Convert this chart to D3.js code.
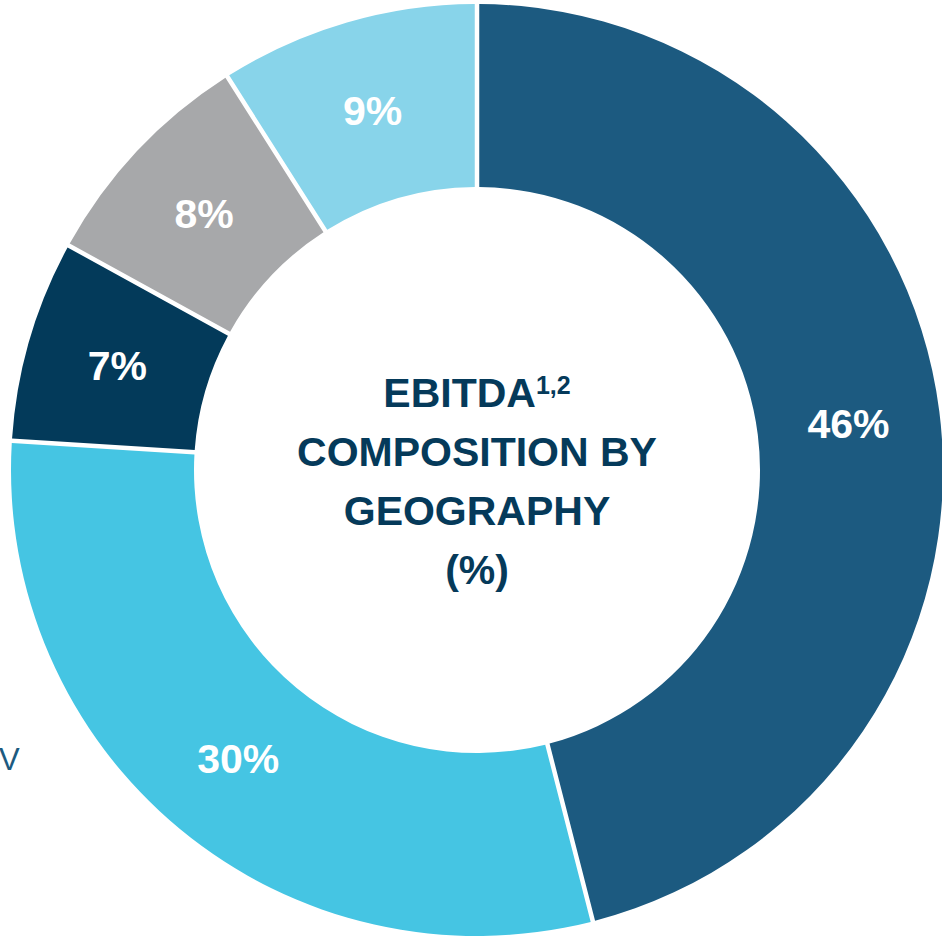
<!DOCTYPE html>
<html>
<head>
<meta charset="utf-8">
<script src="https://cdn.jsdelivr.net/npm/d3@7"></script>
<style>
  html, body { margin: 0; padding: 0; background: #ffffff; }
  svg { display: block; }
  text { font-family: "Liberation Sans", Arial, Helvetica, sans-serif; }
</style>
</head>
<body>
<script>
// EBITDA share by geography, clockwise from 12 o'clock
const shares = [46, 30, 7, 8, 9];
const shareLabels = ["46%", "30%", "7%", "8%", "9%"];
const sliceColors = ["#1c5a80", "#45c5e3", "#033a5a", "#a7a8aa", "#88d4ea"];
const centerLines = ["COMPOSITION BY", "GEOGRAPHY", "(%)"];

const width = 942, height = 936;
const cx = 477, cy = 470;
const outerR = 466, innerR = 283;

const svg = d3.select("body").append("svg")
  .attr("width", width)
  .attr("height", height);

const g = svg.append("g").attr("transform", `translate(${cx},${cy})`);

const pie = d3.pie().sort(null).value(d => d);
const arcs = pie(shares);

const arc = d3.arc()
  .innerRadius(innerR)
  .outerRadius(outerR)
  .padRadius(outerR)
  .padAngle(4.5 / outerR);

g.selectAll("path.slice")
  .data(arcs)
  .join("path")
  .attr("class", "slice")
  .attr("d", arc)
  .attr("fill", (d, i) => sliceColors[i]);

// percentage labels at slice centroids
g.selectAll("text.pct")
  .data(arcs)
  .join("text")
  .attr("class", "pct")
  .attr("transform", d => `translate(${arc.centroid(d)})`)
  .attr("text-anchor", "middle")
  .attr("dy", "0.36em")
  .attr("fill", "#ffffff")
  .attr("font-weight", "bold")
  .attr("font-size", 41)
  .text((d, i) => shareLabels[i]);

// centre title
const titleColor = "#053a5a";
const title = g.append("text")
  .attr("text-anchor", "middle")
  .attr("fill", titleColor)
  .attr("font-weight", "bold")
  .attr("font-size", 41)
  .attr("y", 407 - cy);
title.append("tspan").text("EBITDA");
title.append("tspan")
  .attr("font-size", 25)
  .attr("dy", -13)
  .text("1,2");

centerLines.forEach((line, i) => {
  g.append("text")
    .attr("text-anchor", "middle")
    .attr("fill", titleColor)
    .attr("font-weight", "bold")
    .attr("font-size", 41)
    .attr("y", 466 - cy + i * 59)
    .text(line);
});

// clipped legend fragment at the left edge
svg.append("text")
  .attr("x", -1)
  .attr("y", 770)
  .attr("fill", "#1c5a80")
  .attr("font-size", 31)
  .text("V");
</script>
</body>
</html>
